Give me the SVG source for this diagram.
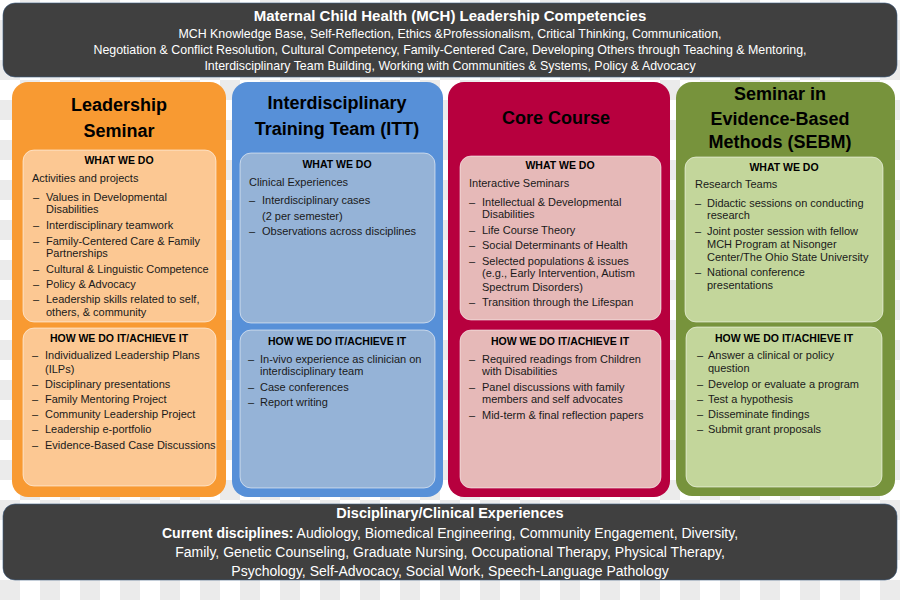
<svg xmlns="http://www.w3.org/2000/svg" width="900" height="600" viewBox="0 0 900 600">
<style>
text{font-family:"Liberation Sans",Arial,sans-serif;fill:#1a1a1a}
.w{fill:#ffffff}
.tt{font-size:15px;font-weight:bold;text-anchor:middle}
.tl{font-size:12.4px;text-anchor:middle}
.bt{font-size:14.5px;font-weight:bold;text-anchor:middle}
.bl{font-size:14px;text-anchor:middle}
.ct{font-size:18px;font-weight:bold;text-anchor:middle;fill:#000}
.h{font-size:10.5px;font-weight:bold;text-anchor:middle;fill:#000}
.b{font-size:11px}
.dark{fill:#404040;stroke:#3a5a80;stroke-width:0.6}
.inner{stroke:#ffffff;stroke-opacity:0.55;stroke-width:1}
</style>
<defs>
<pattern id="chk" width="40" height="40" patternUnits="userSpaceOnUse">
<rect width="40" height="40" fill="#ffffff"/>
<rect x="20" y="0" width="20" height="20" fill="#ebebeb"/>
<rect x="0" y="20" width="20" height="20" fill="#ebebeb"/>
</pattern>
</defs>
<rect width="900" height="600" fill="url(#chk)"/>

<g id="top">
<rect class="dark" x="3" y="3" width="894" height="74" rx="12"/>
<text class="w tt" x="450" y="21">Maternal Child Health (MCH) Leadership Competencies</text>
<text class="w tl" x="450" y="38">MCH Knowledge Base, Self-Reflection, Ethics &amp;Professionalism, Critical Thinking, Communication,</text>
<text class="w tl" x="450" y="54">Negotiation &amp; Conflict Resolution, Cultural Competency, Family-Centered Care, Developing Others through Teaching &amp; Mentoring,</text>
<text class="w tl" x="450" y="70">Interdisciplinary Team Building, Working with Communities &amp; Systems, Policy &amp; Advocacy</text>
</g>

<g id="leadership">
<rect x="12" y="82" width="214" height="415" rx="16" fill="#f89a32"/>
<text class="ct" x="119" y="111">Leadership</text>
<text class="ct" x="119" y="137">Seminar</text>
<rect class="inner" x="23" y="150" width="193" height="172" rx="11" fill="#fcc893"/>
<text class="h" x="119" y="164">WHAT WE DO</text>
<text class="b" x="32" y="182">Activities and projects</text>
<text class="b" x="33" y="201">–</text><text class="b" x="46" y="201">Values in Developmental</text>
<text class="b" x="46" y="213">Disabilities</text>
<text class="b" x="33" y="229">–</text><text class="b" x="46" y="229">Interdisciplinary teamwork</text>
<text class="b" x="33" y="245">–</text><text class="b" x="46" y="245">Family-Centered Care &amp; Family</text>
<text class="b" x="46" y="257">Partnerships</text>
<text class="b" x="33" y="273">–</text><text class="b" x="46" y="273">Cultural &amp; Linguistic Competence</text>
<text class="b" x="33" y="288">–</text><text class="b" x="46" y="288">Policy &amp; Advocacy</text>
<text class="b" x="33" y="303">–</text><text class="b" x="46" y="303">Leadership skills related to self,</text>
<text class="b" x="46" y="316">others, &amp; community</text>
<rect class="inner" x="23" y="328" width="193" height="158" rx="11" fill="#fcc893"/>
<text class="h" x="119" y="342">HOW WE DO IT/ACHIEVE IT</text>
<text class="b" x="32" y="359">–</text><text class="b" x="45" y="359">Individualized Leadership Plans</text>
<text class="b" x="45" y="373">(ILPs)</text>
<text class="b" x="32" y="388">–</text><text class="b" x="45" y="388">Disciplinary presentations</text>
<text class="b" x="32" y="403">–</text><text class="b" x="45" y="403">Family Mentoring Project</text>
<text class="b" x="32" y="418">–</text><text class="b" x="45" y="418">Community Leadership Project</text>
<text class="b" x="32" y="433">–</text><text class="b" x="45" y="433">Leadership e-portfolio</text>
<text class="b" x="32" y="449">–</text><text class="b" x="45" y="449">Evidence-Based Case Discussions</text>
</g>

<g id="itt">
<rect x="232" y="82" width="211" height="415" rx="16" fill="#5790d8"/>
<text class="ct" x="337" y="109">Interdisciplinary</text>
<text class="ct" x="337" y="135">Training Team (ITT)</text>
<rect class="inner" x="240" y="153" width="195" height="170" rx="11" fill="#95b3d7"/>
<text class="h" x="337" y="168">WHAT WE DO</text>
<text class="b" x="249" y="186">Clinical Experiences</text>
<text class="b" x="249" y="204">–</text><text class="b" x="262" y="204">Interdisciplinary cases</text>
<text class="b" x="262" y="220">(2 per semester)</text>
<text class="b" x="249" y="235">–</text><text class="b" x="262" y="235">Observations across disciplines</text>
<rect class="inner" x="240" y="330" width="195" height="158" rx="11" fill="#95b3d7"/>
<text class="h" x="337" y="345">HOW WE DO IT/ACHIEVE IT</text>
<text class="b" x="248" y="363">–</text><text class="b" x="260" y="363">In-vivo experience as clinician on</text>
<text class="b" x="260" y="375">interdisciplinary team</text>
<text class="b" x="248" y="391">–</text><text class="b" x="260" y="391">Case conferences</text>
<text class="b" x="248" y="406">–</text><text class="b" x="260" y="406">Report writing</text>
</g>

<g id="core">
<rect x="448" y="82" width="222" height="415" rx="16" fill="#b7003e"/>
<text class="ct" x="556" y="124">Core Course</text>
<rect class="inner" x="460" y="156" width="201" height="164" rx="11" fill="#e6b9b8"/>
<text class="h" x="560" y="169">WHAT WE DO</text>
<text class="b" x="469" y="187">Interactive Seminars</text>
<text class="b" x="469" y="206">–</text><text class="b" x="482" y="206">Intellectual &amp; Developmental</text>
<text class="b" x="482" y="218">Disabilities</text>
<text class="b" x="469" y="234">–</text><text class="b" x="482" y="234">Life Course Theory</text>
<text class="b" x="469" y="249">–</text><text class="b" x="482" y="249">Social Determinants of Health</text>
<text class="b" x="469" y="265">–</text><text class="b" x="482" y="265">Selected populations &amp; issues</text>
<text class="b" x="482" y="277">(e.g., Early Intervention, Autism</text>
<text class="b" x="482" y="291">Spectrum Disorders)</text>
<text class="b" x="469" y="306">–</text><text class="b" x="482" y="306">Transition through the Lifespan</text>
<rect class="inner" x="460" y="330" width="201" height="158" rx="11" fill="#e6b9b8"/>
<text class="h" x="560" y="345">HOW WE DO IT/ACHIEVE IT</text>
<text class="b" x="469" y="363">–</text><text class="b" x="482" y="363">Required readings from Children</text>
<text class="b" x="482" y="375">with Disabilities</text>
<text class="b" x="469" y="391">–</text><text class="b" x="482" y="391">Panel discussions with family</text>
<text class="b" x="482" y="403">members and self advocates</text>
<text class="b" x="469" y="419">–</text><text class="b" x="482" y="419">Mid-term &amp; final reflection papers</text>
</g>

<g id="sebm">
<rect x="676" y="82" width="219" height="414" rx="16" fill="#77933c"/>
<text class="ct" x="780" y="100">Seminar in</text>
<text class="ct" x="780" y="125">Evidence-Based</text>
<text class="ct" x="780" y="148">Methods (SEBM)</text>
<rect class="inner" x="685" y="157" width="198" height="165" rx="11" fill="#c3d69b"/>
<text class="h" x="784" y="171">WHAT WE DO</text>
<text class="b" x="695" y="188">Research Teams</text>
<text class="b" x="695" y="207">–</text><text class="b" x="707" y="207">Didactic sessions on conducting</text>
<text class="b" x="707" y="219">research</text>
<text class="b" x="695" y="235">–</text><text class="b" x="707" y="235">Joint poster session with fellow</text>
<text class="b" x="707" y="248">MCH Program at Nisonger</text>
<text class="b" x="707" y="261">Center/The Ohio State University</text>
<text class="b" x="695" y="276">–</text><text class="b" x="707" y="276">National conference</text>
<text class="b" x="707" y="289">presentations</text>
<rect class="inner" x="686" y="327" width="196" height="160" rx="11" fill="#c3d69b"/>
<text class="h" x="784" y="342">HOW WE DO IT/ACHIEVE IT</text>
<text class="b" x="697" y="359">–</text><text class="b" x="708" y="359">Answer a clinical or policy</text>
<text class="b" x="708" y="372">question</text>
<text class="b" x="697" y="388">–</text><text class="b" x="708" y="388">Develop or evaluate a program</text>
<text class="b" x="697" y="403">–</text><text class="b" x="708" y="403">Test a hypothesis</text>
<text class="b" x="697" y="418">–</text><text class="b" x="708" y="418">Disseminate findings</text>
<text class="b" x="697" y="433">–</text><text class="b" x="708" y="433">Submit grant proposals</text>
</g>

<g id="bottom">
<rect class="dark" x="3" y="504" width="894" height="76" rx="12"/>
<text class="w bt" x="450" y="518">Disciplinary/Clinical Experiences</text>
<text class="w bl" x="450" y="538"><tspan font-weight="bold" fill="#ffffff">Current disciplines:</tspan> Audiology, Biomedical Engineering, Community Engagement, Diversity,</text>
<text class="w bl" x="450" y="557">Family, Genetic Counseling, Graduate Nursing, Occupational Therapy, Physical Therapy,</text>
<text class="w bl" x="450" y="576">Psychology, Self-Advocacy, Social Work, Speech-Language Pathology</text>
</g>

<g id="connectors"></g>
</svg>
